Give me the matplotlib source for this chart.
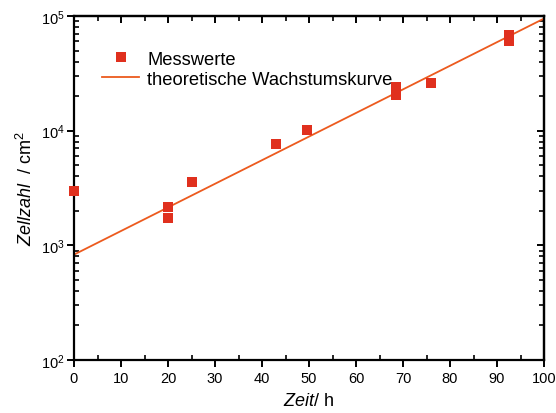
import matplotlib
matplotlib.use("Agg")
import matplotlib.pyplot as plt
from matplotlib.ticker import LogLocator, MultipleLocator, NullFormatter

plt.rcParams['font.family'] = ['Liberation Sans', 'DejaVu Sans']
plt.rcParams['mathtext.fontset'] = 'custom'
plt.rcParams['mathtext.rm'] = 'Liberation Sans'
plt.rcParams['mathtext.it'] = 'Liberation Sans:italic'

# Data
zeit_h = [0, 20, 20, 25, 43, 49.5, 68.5, 68.5, 76, 92.5, 92.5]
zellzahl = [3000, 2180, 1740, 3580, 7650, 10100, 24000, 20500, 26200, 68000, 60000]
theorie_t = [0, 100]
theorie_n = [830, 95000]
x_ticks = [0, 10, 20, 30, 40, 50, 60, 70, 80, 90, 100]
y_ticks = [1e2, 1e3, 1e4, 1e5]
y_ticklabels = [r'$\mathregular{10^{2}}$', r'$\mathregular{10^{3}}$', r'$\mathregular{10^{4}}$', r'$\mathregular{10^{5}}$']

fig = plt.figure(figsize=(5.56, 4.14), dpi=100)
ax = fig.add_axes([74/556, 1-361/414, 470/556, 344/414])

ax.plot(zeit_h, zellzahl, 's', color='#e0301e', markersize=6.5, markeredgewidth=0,
        label='Messwerte', zorder=3, clip_on=False)
ax.plot(theorie_t, theorie_n, '-', color='#ec5a1e', linewidth=1.3,
        label='theoretische Wachstumskurve', zorder=2)

ax.set_yscale('log')
ax.set_xlim(0, 100)
ax.set_ylim(1e2, 1e5)
ax.set_xticks(x_ticks)
ax.xaxis.set_minor_locator(MultipleLocator(5))
ax.set_yticks(y_ticks)
ax.set_yticklabels(y_ticklabels)
ax.yaxis.set_minor_locator(LogLocator(base=10, subs=range(2, 10)))
ax.yaxis.set_minor_formatter(NullFormatter())

for s in ax.spines.values():
    s.set_linewidth(1.6)
ax.tick_params(which='major', direction='out', length=5, width=1.4, labelsize=10.5, colors='black')
ax.tick_params(which='minor', direction='in', length=3.5, width=1.2)
ax.tick_params(axis='x', pad=3)
ax.tick_params(axis='y', pad=2)

secx = ax.secondary_xaxis('top')
secx.set_xticks(x_ticks)
secx.xaxis.set_minor_locator(MultipleLocator(5))
secx.tick_params(which='major', direction='in', length=5, width=1.4, labeltop=False)
secx.tick_params(which='minor', direction='in', length=3.5, width=1.2)
secx.spines['top'].set_linewidth(1.6)

secy = ax.secondary_yaxis('right')
secy.set_yticks(y_ticks)
secy.yaxis.set_minor_locator(LogLocator(base=10, subs=range(2, 10)))
secy.yaxis.set_minor_formatter(NullFormatter())
secy.tick_params(which='major', direction='in', length=5, width=1.4, labelright=False)
secy.tick_params(which='minor', direction='in', length=3.5, width=1.2)
secy.spines['right'].set_linewidth(1.6)

ax.set_xlabel(r'$\mathit{Zeit}$/ h', fontsize=13, labelpad=5)
ax.set_ylabel(r'$\mathit{Zellzahl}$  / cm$^2$', fontsize=13, labelpad=3)

leg = ax.legend(loc='upper left', bbox_to_anchor=(0.045, 0.92), frameon=False,
                fontsize=13.2, handlelength=2.0, handletextpad=0.45, labelspacing=0.15,
                borderaxespad=0)

fig.savefig('out.png', dpi=100)
